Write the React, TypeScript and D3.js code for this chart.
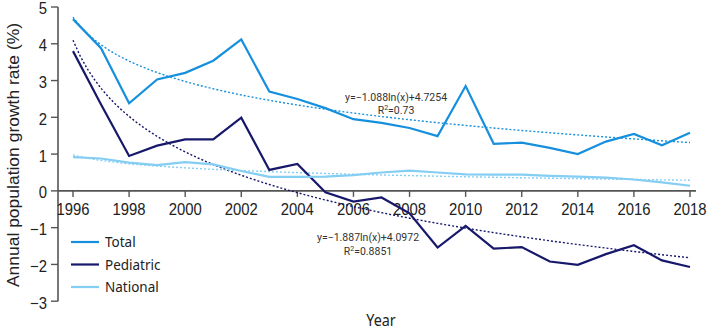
import React from "react";
import * as d3 from "d3";

const years = d3.range(1996, 2019);
const totalValues = [4.67, 3.88, 2.38, 3.03, 3.21, 3.54, 4.12, 2.70, 2.50, 2.25, 1.95, 1.85, 1.71, 1.49, 2.85, 1.28, 1.31, 1.17, 1.00, 1.34, 1.55, 1.24, 1.58];
const pediatricValues = [3.80, 2.35, 0.95, 1.23, 1.40, 1.40, 1.99, 0.57, 0.73, -0.04, -0.29, -0.18, -0.61, -1.54, -0.95, -1.57, -1.53, -1.92, -2.01, -1.72, -1.48, -1.89, -2.07];
const nationalValues = [0.92, 0.88, 0.77, 0.70, 0.78, 0.72, 0.54, 0.38, 0.38, 0.39, 0.43, 0.50, 0.55, 0.50, 0.45, 0.44, 0.44, 0.41, 0.39, 0.36, 0.31, 0.23, 0.14];
const seriesNames = ["Total", "Pediatric", "National"];
const seriesColors = ["#1690dd", "#17186b", "#84cdf3"];
// log trend coefficients: y = slope*ln(x) + intercept
const trendSlopes = [-1.088, -1.887, -0.22];
const trendIntercepts = [4.7254, 4.0972, 0.98];
const yTicks = [5, 4, 3, 2, 1, 0, -1, -2, -3];
const xTicks = d3.range(1996, 2019, 2);

export default function App() {
  const W = 708, H = 329;
  const x = d3.scaleLinear().domain([1996, 2018]).range([73, 690]);
  const y = d3.scaleLinear().domain([-3, 5]).range([301.2, 7]);
  const allSeries = [totalValues, pediatricValues, nationalValues];
  const line = d3.line<number>().x((_, i) => x(years[i])).y((d) => y(d));
  const fine = d3.range(0, 22.01, 0.25);
  const trendLine = (k: number) =>
    d3.line<number>().x((t) => x(1996 + t)).y((t) => y(trendSlopes[k] * Math.log(t + 1) + trendIntercepts[k]))(fine);
  const axisColor = "#555";
  const font = "Liberation Sans, Arial, sans-serif";
  const font2 = "Noto Sans, sans-serif";
  const sx = 0.9;
  return (
    <svg width={W} height={H} style={{ position: "absolute", left: 0, top: 0, background: "#fff" }}>
      {/* axes */}
      <line x1={58} x2={58} y1={y(5)} y2={y(-3)} stroke={axisColor} strokeWidth={1.6} />
      {yTicks.map((t) => (
        <g key={t}>
          <line x1={51} x2={58} y1={y(t)} y2={y(t)} stroke={axisColor} strokeWidth={1.4} />
          <text transform={`translate(47,${y(t) + 1.5}) scale(${sx},1)`} dy="0.36em" textAnchor="end" fontSize={16.5} fontFamily={font} fill="#222">
            {t < 0 ? "\u2212" + Math.abs(t) : t}
          </text>
        </g>
      ))}
      <line x1={58} x2={696} y1={y(0)} y2={y(0)} stroke={axisColor} strokeWidth={1.6} />
      {xTicks.map((t) => (
        <g key={t}>
          <line x1={x(t)} x2={x(t)} y1={y(0)} y2={y(0) + 6} stroke={axisColor} strokeWidth={1.4} />
          <text transform={`translate(${x(t)},${y(0) + 18}) scale(${sx},1)`} dy="0.36em" textAnchor="middle" fontSize={16.5} fontFamily={font} fill="#222">
            {t}
          </text>
        </g>
      ))}
      <text transform={`translate(13,155) scale(${sx},1) rotate(-90)`} textAnchor="middle" fontSize={17.5} fontFamily={font} fill="#222" dy="0.35em">
        Annual population growth rate (%)
      </text>
      <text transform={`translate(381,320) scale(${sx},1)`} textAnchor="middle" fontSize={16} fontFamily={font2} fill="#222" dy="0.35em">
        Year
      </text>
      {/* trend lines */}
      {allSeries.map((_, k) => (
        <path key={"t" + k} d={trendLine(k) || ""} fill="none" stroke={seriesColors[k]} strokeWidth={1.4} strokeDasharray="2,2" />
      ))}
      {/* data lines */}
      {allSeries.map((s, k) => (
        <path key={"s" + k} d={line(s) || ""} fill="none" stroke={seriesColors[k]} strokeWidth={2.2} strokeLinejoin="miter" />
      ))}
      {/* equations */}
      <g fontFamily="Roboto, sans-serif" fontSize={10.5} fill="#333" textAnchor="middle">
        <text x={396} y={97} dy="0.35em">y=−1.088ln(x)+4.7254</text>
        <text x={396} y={110} dy="0.35em">R<tspan fontSize={7} dy="-4">2</tspan><tspan dy="4">=0.73</tspan></text>
        <text x={368} y={237} dy="0.35em">y=−1.887ln(x)+4.0972</text>
        <text x={368} y={251} dy="0.35em">R<tspan fontSize={7} dy="-4">2</tspan><tspan dy="4">=0.8851</tspan></text>
      </g>
      {/* legend */}
      {seriesNames.map((n, i) => (
        <g key={n} transform={`translate(71,${242 + i * 22.5})`}>
          <line x1={0} x2={28} y1={0} y2={0} stroke={seriesColors[i]} strokeWidth={2.2} />
          <text transform={`translate(34,0) scale(${sx},1)`} dy="0.35em" fontSize={15} fontFamily={font2} fill="#222">{n}</text>
        </g>
      ))}
    </svg>
  );
}
